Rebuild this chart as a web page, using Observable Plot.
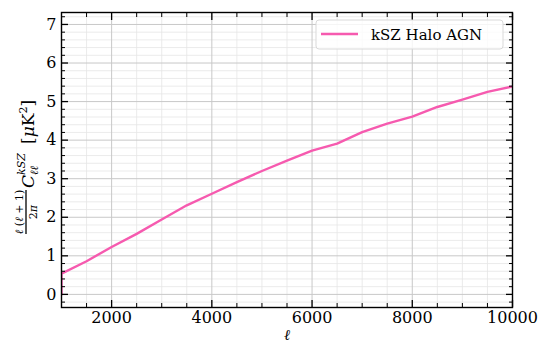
<!DOCTYPE html>
<html>
<head>
<meta charset="utf-8">
<script src="https://cdn.jsdelivr.net/npm/d3@7"></script>
<script src="https://cdn.jsdelivr.net/npm/@observablehq/plot@0.6"></script>
<style>
  html, body { margin: 0; padding: 0; background: #fff; }
  #chart svg { display: block; }
  #chart svg g[aria-label="x-axis tick label"] text,
  #chart svg g[aria-label="y-axis tick label"] text {
    font-size: 16px !important;
    font-family: 'DejaVu Serif', serif !important;
  }
</style>
</head>
<body>
<div id="chart"></div>
<script>
// Data
const ell = [1000, 1000, 1500, 2000, 2500, 3000, 3500, 4000, 4500, 5000, 5500, 6000, 6500, 7000, 7500, 8000, 8500, 9000, 9500, 10000];
const dl  = [0.00, 0.54, 0.86, 1.23, 1.57, 1.94, 2.31, 2.61, 2.91, 3.20, 3.47, 3.73, 3.91, 4.21, 4.43, 4.61, 4.86, 5.05, 5.25, 5.39];
const seriesName = "kSZ Halo AGN";
const xMajor = [2000, 4000, 6000, 8000, 10000];
const xMinor = [1000, 1500, 2500, 3000, 3500, 4500, 5000, 5500, 6500, 7000, 7500, 8500, 9000, 9500];
const yMajor = [0, 1, 2, 3, 4, 5, 6, 7];
const yMinor = [-0.2, 0.2, 0.4, 0.6, 0.8, 1.2, 1.4, 1.6, 1.8, 2.2, 2.4, 2.6, 2.8, 3.2, 3.4, 3.6, 3.8, 4.2, 4.4, 4.6, 4.8, 5.2, 5.4, 5.6, 5.8, 6.2, 6.4, 6.6, 6.8, 7.2];

const data = ell.map((l, i) => ({ell: l, dl: dl[i]}));
const pink = "#f65aaf";
const font = "'DejaVu Serif', serif";

const none = () => "";
const plot = Plot.plot({
  width: 540,
  height: 345,
  marginLeft: 61,
  marginRight: 28,
  marginTop: 12,
  marginBottom: 38,
  style: {fontFamily: font, fontSize: "16px", color: "black", background: "white"},
  x: {domain: [1000, 10000]},
  y: {domain: [-0.34, 7.31]},
  marks: [
    Plot.gridX(xMinor, {stroke: "#e6e6e6", strokeOpacity: 1, strokeWidth: 0.8}),
    Plot.gridY(yMinor, {stroke: "#e6e6e6", strokeOpacity: 1, strokeWidth: 0.8}),
    Plot.gridX(xMajor, {stroke: "#c8c8c8", strokeOpacity: 1, strokeWidth: 1}),
    Plot.gridY(yMajor, {stroke: "#c8c8c8", strokeOpacity: 1, strokeWidth: 1}),
    Plot.line(data, {x: "ell", y: "dl", stroke: pink, strokeWidth: 2.4, clip: true}),
    // bottom axis
    Plot.axisX(xMajor, {anchor: "bottom", tickSize: -7, tickPadding: 11, tickFormat: d => String(d), label: null, strokeWidth: 1.3, fontSize: 16}),
    Plot.axisX(xMinor, {anchor: "bottom", tickSize: -4, tickFormat: none, label: null, strokeWidth: 1}),
    // top axis
    Plot.axisX(xMajor, {anchor: "top", tickSize: -7, tickFormat: none, label: null, strokeWidth: 1.3}),
    Plot.axisX(xMinor, {anchor: "top", tickSize: -4, tickFormat: none, label: null, strokeWidth: 1}),
    // left axis
    Plot.axisY(yMajor, {anchor: "left", tickSize: -7, tickPadding: 12, tickFormat: d => String(d), label: null, strokeWidth: 1.3, fontSize: 16}),
    Plot.axisY(yMinor, {anchor: "left", tickSize: -4, tickFormat: none, label: null, strokeWidth: 1}),
    // right axis
    Plot.axisY(yMajor, {anchor: "right", tickSize: -7, tickFormat: none, label: null, strokeWidth: 1.3}),
    Plot.axisY(yMinor, {anchor: "right", tickSize: -4, tickFormat: none, label: null, strokeWidth: 1}),
    Plot.frame({stroke: "black", strokeWidth: 1.4})
  ]
});
document.getElementById("chart").appendChild(plot);

// Annotations: axis labels and legend
const svg = d3.select(plot);
// x label
svg.append("text")
  .attr("x", 287).attr("y", 340)
  .attr("text-anchor", "middle")
  .attr("font-family", font).attr("font-size", 15).attr("font-style", "italic")
  .text("ℓ");

// y label (rotated)
const g = svg.append("g").attr("transform", "translate(37,233) rotate(-90)")
  .attr("font-family", font).attr("fill", "black").attr("text-anchor", "start");
g.append("text").attr("x", 21).attr("y", -14).attr("text-anchor", "middle").attr("font-size", 11)
  .html('<tspan font-style="italic">ℓ</tspan> (<tspan font-style="italic">ℓ</tspan> + 1)');
g.append("line").attr("x1", -1).attr("x2", 43).attr("y1", -11).attr("y2", -11)
  .attr("stroke", "black").attr("stroke-width", 1.3);
g.append("text").attr("x", 21).attr("y", 0).attr("text-anchor", "middle").attr("font-size", 11)
  .html('2<tspan font-style="italic">π</tspan>');
g.append("text").attr("x", 45).attr("y", -3).attr("font-size", 17).attr("font-style", "italic").text("C");
g.append("text").attr("x", 58).attr("y", 1).attr("font-size", 11).attr("font-style", "italic").text("ℓℓ");
g.append("text").attr("x", 58).attr("y", -12).attr("font-size", 11).attr("font-style", "italic").text("kSZ");
g.append("text").attr("x", 89).attr("y", -3).attr("font-size", 17)
  .html('[<tspan font-style="italic">μ</tspan>K<tspan font-size="11" dy="-7">2</tspan><tspan dy="7">]</tspan>');

// legend
const lg = svg.append("g").attr("text-anchor", "start");
lg.append("rect").attr("x", 316).attr("y", 20).attr("width", 187).attr("height", 29).attr("rx", 3)
  .attr("fill", "white").attr("fill-opacity", 0.8).attr("stroke", "#d9d9d9").attr("stroke-width", 1);
lg.append("line").attr("x1", 321).attr("x2", 358).attr("y1", 34).attr("y2", 34)
  .attr("stroke", pink).attr("stroke-width", 2.4);
lg.append("text").attr("x", 371).attr("y", 39.5).attr("font-family", font).attr("font-size", 15)
  .attr("text-anchor", "start")
  .text(seriesName);
</script>
</body>
</html>
